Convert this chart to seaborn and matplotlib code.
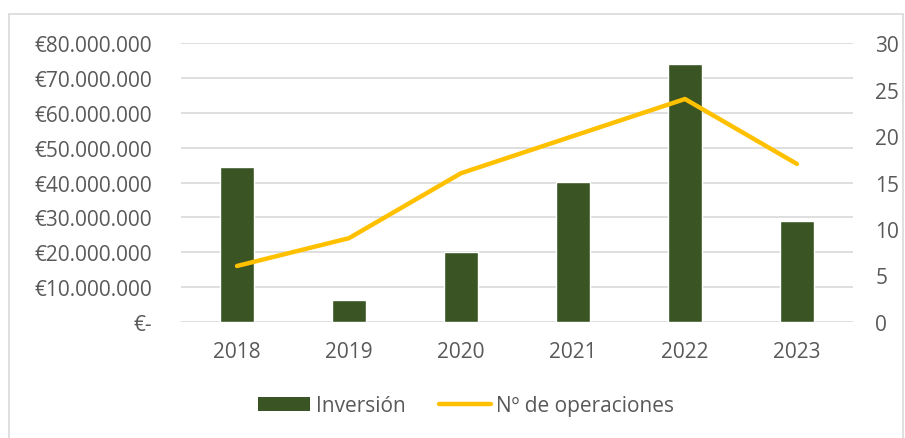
import numpy as np
import pandas as pd
import matplotlib as mpl
import matplotlib.pyplot as plt
import seaborn as sns
from matplotlib.patches import Patch, Rectangle
from matplotlib.lines import Line2D
from matplotlib.ticker import FuncFormatter, MultipleLocator

# values
years = ["2018", "2019", "2020", "2021", "2022", "2023"]
inversion = [44.4e6, 6.2e6, 19.9e6, 40.2e6, 74.1e6, 28.9e6]
operaciones = [6, 9, 16, 20, 24, 17]

bar_color = "#3A5523"
line_color = "#FFC000"
text_color = "#595959"

df = pd.DataFrame({"year": years, "Inversión": inversion, "ops": operaciones})

sns.set_style("white")
plt.rcParams["font.family"] = ["Open Sans", "DejaVu Sans"]
plt.rcParams["font.size"] = 15

fig = plt.figure(figsize=(9.05, 4.39), dpi=100)
ax = fig.add_axes([0.2, 0.265, 0.7425, 0.634])

sns.barplot(data=df, x="year", y="Inversión", color=bar_color, width=0.31,
            saturation=1, ax=ax)
ax.set_ylim(0, 80e6)
ax.yaxis.set_major_locator(MultipleLocator(10e6))
ax.yaxis.set_major_formatter(FuncFormatter(
    lambda v, p: "€-" if v == 0 else "€" + f"{v:,.0f}".replace(",", ".")))
ax.grid(axis="y", color="#D9D9D9", linewidth=1.2)
ax.set_axisbelow(True)
ax.set_xlabel("")
ax.set_ylabel("")

ax2 = ax.twinx()
sns.pointplot(data=df, x="year", y="ops", color=line_color, marker="",
              linewidth=3.2, ax=ax2)
for ln in ax2.lines:
    ln.set_solid_capstyle("round")
    ln.set_solid_joinstyle("round")
ax2.set_ylim(0, 30)
ax2.yaxis.set_major_locator(MultipleLocator(5))
ax2.set_xlabel("")
ax2.set_ylabel("")

for a in (ax, ax2):
    sns.despine(ax=a, left=True, right=True, top=True, bottom=True)
    a.tick_params(length=0, colors=text_color, labelsize=15)
ax.tick_params(axis="y", pad=21)
ax2.tick_params(axis="y", pad=16)
ax.tick_params(axis="x", pad=14)
for a in (ax, ax2):
    for lab in a.get_yticklabels() + a.get_xticklabels():
        lab.set_color(text_color)

handles = [Patch(facecolor=bar_color, edgecolor="none"),
           Line2D([0], [0], color=line_color, linewidth=3.2, solid_capstyle="round")]
fig.legend(handles, ["Inversión", "Nº de operaciones"], loc="center",
           bbox_to_anchor=(0.515, 0.073), ncol=2, frameon=False,
           labelcolor=text_color, fontsize=15, handlelength=2.5,
           handletextpad=0.25, columnspacing=1.6)

# light chart border like the spreadsheet frame
fig.patches.append(Rectangle((0.01, -0.01), 0.988, 0.975, transform=fig.transFigure,
                             fill=False, edgecolor="#D9D9D9", linewidth=1.2))

fig.savefig("out.png", dpi=100)
